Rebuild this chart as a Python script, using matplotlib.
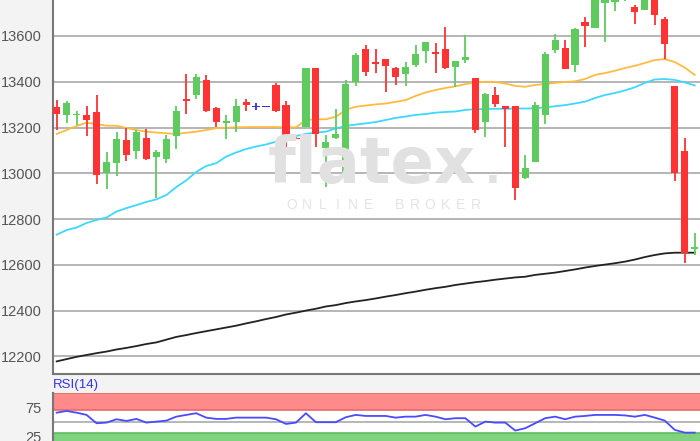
import matplotlib
matplotlib.use("Agg")
import matplotlib.pyplot as plt
import numpy as np

# ---------------- data ----------------
opens = [13290, 13255, 13255, 13256, 13270, 13002, 13047, 13145, 13098, 13156,
         13070, 13064, 13162, 13324, 13341, 13407, 13284, 13221, 13226, 13313,
         13291, 13291, 13386, 13298, 13156, 13204, 13461, 13109, 13153, 13003,
         13400, 13542, 13488, 13498, 13459, 13433, 13473, 13534, 13530, 13542,
         13466, 13495, 13418, 13226, 13342, 13294, 13294, 12978, 13051, 13255,
         13539, 13549, 13473, 13662, 13634, 13746, 13750, 13765, 13725, 13714,
         13790, 13673, 13382, 13099, 12668]
highs = [13320, 13318, 13274, 13292, 13342, 13094, 13181, 13200, 13191, 13193,
         13101, 13169, 13295, 13436, 13436, 13430, 13288, 13255, 13323, 13323,
         13306, 13291, 13393, 13317, 13158, 13461, 13461, 13167, 13280, 13408,
         13527, 13561, 13542, 13498, 13466, 13488, 13561, 13575, 13571, 13641,
         13491, 13604, 13418, 13352, 13378, 13294, 13294, 13080, 13313, 13531,
         13607, 13583, 13634, 13682, 13800, 13790, 13785, 13800, 13735, 13790,
         13800, 13684, 13382, 13153, 12738]
lows = [13190, 13218, 13212, 13165, 12952, 12933, 12990, 13053, 13064, 13060,
        12890, 13047, 13108, 13261, 13324, 13270, 13204, 13149, 13182, 13274,
        13277, 13291, 13269, 13102, 13148, 13204, 13114, 12941, 13149, 13000,
        13381, 13425, 13437, 13357, 13386, 13381, 13466, 13483, 13440, 13454,
        13378, 13481, 13177, 13160, 13288, 13114, 12883, 12974, 13051, 13215,
        13527, 13454, 13444, 13551, 13634, 13575, 13711, 13752, 13652, 13714,
        13648, 13498, 12968, 12607, 12643]
closes = [13258, 13308, 13259, 13232, 12993, 13050, 13152, 13082, 13181, 13064,
          13094, 13152, 13271, 13315, 13422, 13273, 13223, 13230, 13292, 13298,
          13291, 13291, 13274, 13149, 13150, 13461, 13172, 13138, 13172, 13390,
          13517, 13444, 13478, 13470, 13422, 13463, 13520, 13575, 13520, 13459,
          13491, 13507, 13189, 13347, 13303, 13281, 12934, 13022, 13298, 13521,
          13583, 13454, 13629, 13644, 13790, 13770, 13765, 13790, 13706, 13780,
          13692, 13564, 13000, 12650, 12676]

ma_orange = [13172, 13189, 13207, 13221, 13215, 13208, 13208, 13198, 13189, 13182,
             13178, 13175, 13172, 13177, 13182, 13189, 13197, 13199, 13201, 13202,
             13202, 13202, 13202, 13201, 13201, 13233, 13236, 13236, 13247, 13277,
             13291, 13296, 13301, 13305, 13312, 13320, 13338, 13353, 13364, 13373,
             13380, 13390, 13397, 13400, 13399, 13392, 13382, 13378, 13386, 13390,
             13395, 13399, 13402, 13412, 13430, 13438, 13448, 13460, 13470, 13482,
             13495, 13499, 13486, 13462, 13430]
ma_cyan = [12732, 12752, 12763, 12783, 12796, 12807, 12833, 12848, 12861, 12875,
           12886, 12905, 12940, 12969, 13006, 13032, 13044, 13073, 13091, 13106,
           13117, 13126, 13138, 13152, 13163, 13172, 13178, 13182, 13196, 13207,
           13213, 13218, 13224, 13233, 13242, 13248, 13255, 13259, 13265, 13268,
           13270, 13277, 13280, 13281, 13282, 13282, 13283, 13283, 13284, 13288,
           13293, 13298, 13305, 13313, 13329, 13342, 13351, 13362, 13376, 13395,
           13410, 13412, 13408, 13397, 13384]
ma_black = [12178, 12188, 12198, 12206, 12214, 12221, 12230, 12237, 12245, 12254,
            12261, 12273, 12285, 12293, 12302, 12310, 12318, 12326, 12334, 12344,
            12353, 12363, 12372, 12383, 12391, 12400, 12408, 12418, 12424, 12433,
            12440, 12446, 12453, 12461, 12468, 12476, 12483, 12491, 12498, 12504,
            12512, 12518, 12524, 12529, 12535, 12540, 12545, 12548, 12556, 12561,
            12566, 12573, 12580, 12588, 12595, 12601, 12607, 12614, 12623, 12634,
            12643, 12650, 12653, 12653, 12653]
rsi = [65.5, 68.4, 65.5, 61.6, 47.2, 48.3, 54.1, 51.2, 54.7, 48.3,
       50.0, 51.7, 58.6, 61.6, 64.5, 56.9, 54.7, 54.7, 56.9, 56.9,
       56.9, 56.9, 54.1, 46.0, 48.3, 64.5, 49.0, 49.0, 49.0, 57.6,
       61.6, 59.8, 59.8, 59.8, 56.9, 58.6, 58.6, 61.6, 58.6, 54.1,
       55.9, 55.9, 41.4, 50.0, 48.3, 48.3, 34.5, 38.6, 47.2, 55.9,
       58.6, 54.1, 58.6, 59.8, 61.6, 61.6, 61.6, 60.7, 58.6, 61.6,
       56.9, 51.7, 35.7, 31.0, 31.0]
yticks = [12200, 12400, 12600, 12800, 13000, 13200, 13400, 13600]
rsi_ticks = [25, 75]
rsi_label = "RSI(14)"
logo_word = "flatex"
logo_sub = "ONLINE BROKER"

# ---------------- style ----------------
plt.rcParams['font.family'] = ['Liberation Sans', 'DejaVu Sans']
W, H = 700, 441
fig = plt.figure(figsize=(7, 4.41), dpi=100)
fig.patch.set_facecolor('#f3f3f3')

left = 52.5 / W
ax = fig.add_axes([left, (H - 374.3) / H, 1 - left, 374.3 / H])
ax2 = fig.add_axes([left, 0, 1 - left, (H - 392.7) / H])

GREEN = '#5fcb5f'
RED = '#ff3333'
BLUE = '#3b2fd6'

n = len(opens)
x = np.arange(n)
ax.set_facecolor('white')
ax.set_xlim(-0.42, 64.53)
ax.set_ylim(12121.6, 13757.3)
ax.set_yticks(yticks)
ax.set_yticklabels([str(t) for t in yticks])
ax.grid(axis='y', color='#b0b0b0', linewidth=1.3, zorder=0)
ax.set_xticks([])
ax.tick_params(axis='y', length=0, pad=8, labelsize=10.5, labelcolor='#555555')
for s in ['top', 'right']:
    ax.spines[s].set_visible(False)
for s in ['left', 'bottom']:
    ax.spines[s].set_color('#777777')
    ax.spines[s].set_linewidth(1.5)

# watermark
fig.text(372 / W, 1 - 183 / H, logo_word, ha='center', va='baseline',
         fontsize=46, fontweight='bold', family='DejaVu Sans',
         color='#e1e1e1', zorder=1)
fig.text(493 / W, 1 - 183 / H, ".", ha='center', va='baseline',
         fontsize=30, fontweight='bold', family='DejaVu Sans',
         color='#e1e1e1', zorder=1)
sub_x0, sub_x1 = 292, 476
for k, ch in enumerate(logo_sub):
    px = sub_x0 + k * (sub_x1 - sub_x0) / (len(logo_sub) - 1)
    fig.text(px / W, 1 - 205 / H, ch, ha='center', va='center',
             fontsize=10, color='#e4e4e4', zorder=1)

# moving averages
ax.plot(x, ma_black, color='#222222', linewidth=1.3, zorder=2)
ax.plot(x, ma_cyan, color='#3dd8ff', linewidth=1.3, zorder=2)
ax.plot(x, ma_orange, color='#ffbb40', linewidth=1.3, zorder=2)

# candles
cols = []
for o, c in zip(opens, closes):
    cols.append(GREEN if c > o else (RED if c < o else BLUE))
ax.vlines(x, lows, highs, colors=cols, linewidth=1.3, zorder=3)
bot = [min(o, c) for o, c in zip(opens, closes)]
hgt = [max(abs(c - o), 3) for o, c in zip(opens, closes)]
ax.bar(x, hgt, bottom=bot, width=0.72, color=cols, linewidth=0, zorder=4)

# RSI panel
ax2.set_facecolor('white')
ax2.set_xlim(-0.42, 64.53)
ax2.set_ylim(16.5, 100)
ax2.axhspan(70, 100, color='#ff8a8a', zorder=1, linewidth=0)
ax2.axhline(70, color='#e86a6a', linewidth=1.2, zorder=2)
ax2.axhline(99.3, color='#e86a6a', linewidth=1.2, zorder=2)
ax2.axhspan(0, 30, color='#7fd37f', zorder=1, linewidth=0)
ax2.axhline(30, color='#5cbf5c', linewidth=1.2, zorder=2)
ax2.axhline(50, color='#aaaaaa', linewidth=1.2, zorder=2)
ax2.plot(x, rsi, color='#4a4aff', linewidth=1.3, zorder=3)
ax2.set_xticks([])
ax2.set_yticks(rsi_ticks)
ax2.set_yticklabels([str(t) for t in rsi_ticks])
ax2.tick_params(axis='y', length=0, pad=8, labelsize=10.5, labelcolor='#555555')
for s in ['top', 'right', 'bottom']:
    ax2.spines[s].set_visible(False)
ax2.spines['left'].set_color('#777777')
ax2.spines['left'].set_linewidth(1.5)

fig.text(53 / W, 1 - 385 / H, rsi_label, color='#3333ee', fontsize=9.5,
         ha='left', va='center')

fig.savefig('out.png', dpi=100, facecolor=fig.get_facecolor())
